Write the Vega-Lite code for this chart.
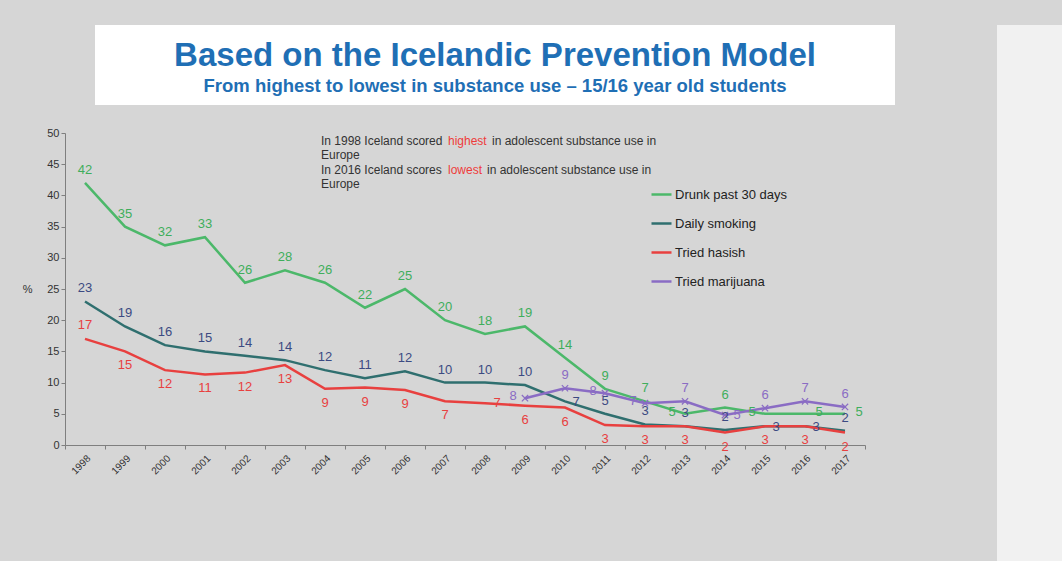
{
  "$schema": "https://vega.github.io/schema/vega-lite/v6.json",
  "background": "#d6d6d6",
  "padding": {"left": 22, "top": 0, "right": 0, "bottom": 0},
  "config": {"font": "Liberation Sans", "view": {"stroke": null}},
  "spacing": 102,
  "align": "each",
  "hconcat": [
    {
      "spacing": 22,
      "align": "each",
      "vconcat": [
        {
          "spacing": 0,
          "align": "each",
          "hconcat": [
            {"width": 30, "height": 80, "data": {"values": []}, "mark": "point"},
            {
              "width": 800,
              "height": 80,
              "view": {"fill": "white", "stroke": null},
              "title": {"text": " ", "fontSize": 10, "offset": 15},
              "layer": [
                {
                  "data": {"values": [{"t": "Based on the Icelandic Prevention Model"}]},
                  "mark": {"type": "text", "fontSize": 33, "fontWeight": "bold", "color": "#1f6fb5", "dy": -9, "baseline": "middle"},
                  "encoding": {"text": {"field": "t"}}
                },
                {
                  "data": {"values": [{"t": "From highest to lowest in substance use – 15/16 year old students"}]},
                  "mark": {"type": "text", "fontSize": 18.5, "fontWeight": "bold", "color": "#1f6fb5", "dy": 21, "baseline": "middle"},
                  "encoding": {"text": {"field": "t"}}
                }
              ]
            }
          ]
        },
        {
          "width": 800,
          "height": 312,
          "layer": [
            {
              "data": {"values": [
                {"year": "1998", "s": "Drunk past 30 days", "v": 42},
                {"year": "1999", "s": "Drunk past 30 days", "v": 35},
                {"year": "2000", "s": "Drunk past 30 days", "v": 32},
                {"year": "2001", "s": "Drunk past 30 days", "v": 33.3},
                {"year": "2002", "s": "Drunk past 30 days", "v": 26},
                {"year": "2003", "s": "Drunk past 30 days", "v": 28},
                {"year": "2004", "s": "Drunk past 30 days", "v": 26},
                {"year": "2005", "s": "Drunk past 30 days", "v": 22},
                {"year": "2006", "s": "Drunk past 30 days", "v": 25},
                {"year": "2007", "s": "Drunk past 30 days", "v": 20},
                {"year": "2008", "s": "Drunk past 30 days", "v": 17.8},
                {"year": "2009", "s": "Drunk past 30 days", "v": 19},
                {"year": "2010", "s": "Drunk past 30 days", "v": 14},
                {"year": "2011", "s": "Drunk past 30 days", "v": 9},
                {"year": "2012", "s": "Drunk past 30 days", "v": 7},
                {"year": "2013", "s": "Drunk past 30 days", "v": 5},
                {"year": "2014", "s": "Drunk past 30 days", "v": 6},
                {"year": "2015", "s": "Drunk past 30 days", "v": 5},
                {"year": "2016", "s": "Drunk past 30 days", "v": 5},
                {"year": "2017", "s": "Drunk past 30 days", "v": 5},
                {"year": "1998", "s": "Daily smoking", "v": 23},
                {"year": "1999", "s": "Daily smoking", "v": 19},
                {"year": "2000", "s": "Daily smoking", "v": 16},
                {"year": "2001", "s": "Daily smoking", "v": 15},
                {"year": "2002", "s": "Daily smoking", "v": 14.3},
                {"year": "2003", "s": "Daily smoking", "v": 13.6},
                {"year": "2004", "s": "Daily smoking", "v": 12},
                {"year": "2005", "s": "Daily smoking", "v": 10.7},
                {"year": "2006", "s": "Daily smoking", "v": 11.8},
                {"year": "2007", "s": "Daily smoking", "v": 10},
                {"year": "2008", "s": "Daily smoking", "v": 10},
                {"year": "2009", "s": "Daily smoking", "v": 9.6},
                {"year": "2010", "s": "Daily smoking", "v": 7},
                {"year": "2011", "s": "Daily smoking", "v": 5},
                {"year": "2012", "s": "Daily smoking", "v": 3.3},
                {"year": "2013", "s": "Daily smoking", "v": 3},
                {"year": "2014", "s": "Daily smoking", "v": 2.4},
                {"year": "2015", "s": "Daily smoking", "v": 3},
                {"year": "2016", "s": "Daily smoking", "v": 3},
                {"year": "2017", "s": "Daily smoking", "v": 2.3},
                {"year": "1998", "s": "Tried hasish", "v": 17},
                {"year": "1999", "s": "Tried hasish", "v": 15},
                {"year": "2000", "s": "Tried hasish", "v": 12},
                {"year": "2001", "s": "Tried hasish", "v": 11.3},
                {"year": "2002", "s": "Tried hasish", "v": 11.6},
                {"year": "2003", "s": "Tried hasish", "v": 12.8},
                {"year": "2004", "s": "Tried hasish", "v": 9},
                {"year": "2005", "s": "Tried hasish", "v": 9.2},
                {"year": "2006", "s": "Tried hasish", "v": 8.8},
                {"year": "2007", "s": "Tried hasish", "v": 7},
                {"year": "2008", "s": "Tried hasish", "v": 6.7},
                {"year": "2009", "s": "Tried hasish", "v": 6.3},
                {"year": "2010", "s": "Tried hasish", "v": 6},
                {"year": "2011", "s": "Tried hasish", "v": 3.2},
                {"year": "2012", "s": "Tried hasish", "v": 3},
                {"year": "2013", "s": "Tried hasish", "v": 3},
                {"year": "2014", "s": "Tried hasish", "v": 2},
                {"year": "2015", "s": "Tried hasish", "v": 3},
                {"year": "2016", "s": "Tried hasish", "v": 3},
                {"year": "2017", "s": "Tried hasish", "v": 2},
                {"year": "2009", "s": "Tried marijuana", "v": 7.5},
                {"year": "2010", "s": "Tried marijuana", "v": 9.1},
                {"year": "2011", "s": "Tried marijuana", "v": 8.3},
                {"year": "2012", "s": "Tried marijuana", "v": 6.7},
                {"year": "2013", "s": "Tried marijuana", "v": 7},
                {"year": "2014", "s": "Tried marijuana", "v": 4.8},
                {"year": "2015", "s": "Tried marijuana", "v": 5.9},
                {"year": "2016", "s": "Tried marijuana", "v": 7},
                {"year": "2017", "s": "Tried marijuana", "v": 6.1}
              ]},
              "encoding": {
                "x": {
                  "field": "year", "type": "ordinal",
                  "scale": {"type": "band", "paddingInner": 0, "paddingOuter": 0},
                  "axis": {"title": null, "labelAngle": -45, "tickBand": "extent", "domainColor": "#7f7f7f", "tickColor": "#7f7f7f", "tickSize": 4, "labelFontSize": 10, "labelColor": "#333333", "labelPadding": 4}
                },
                "y": {
                  "field": "v", "type": "quantitative",
                  "scale": {"domain": [0, 50]},
                  "axis": {"title": "%", "titleAngle": 0, "titleAlign": "right", "titleBaseline": "middle", "titleX": -33, "titleFontWeight": "normal", "titleFontSize": 11, "titleColor": "#333333", "values": [0, 5, 10, 15, 20, 25, 30, 35, 40, 45, 50], "grid": false, "tickSize": 4, "labelFontSize": 11, "labelColor": "#333333", "domainColor": "#7f7f7f", "tickColor": "#7f7f7f"}
                }
              },
              "layer": [
                {
                  "mark": {"type": "line", "strokeWidth": 2.5},
                  "encoding": {
                    "color": {
                      "field": "s", "type": "nominal",
                      "scale": {"domain": ["Drunk past 30 days", "Daily smoking", "Tried hasish", "Tried marijuana"], "range": ["#4cb86a", "#2f6f6f", "#e8403f", "#8a6cc4"]},
                      "legend": {"title": null, "orient": "none", "legendX": 585, "legendY": 158, "symbolType": "stroke", "symbolSize": 400, "symbolStrokeWidth": 2.5, "labelFontSize": 13, "labelColor": "#222222", "rowPadding": 10, "labelOffset": 2, "padding": 0}
                    }
                  }
                },
                {
                  "transform": [{"filter": "datum.s == 'Tried marijuana'"}],
                  "mark": {"type": "point", "shape": "M-1,-1L1,1M-1,1L1,-1", "filled": false, "size": 40, "color": "#8a6cc4", "strokeWidth": 1.2, "opacity": 1}
                },
                {
                  "transform": [{"filter": "datum.s == 'Drunk past 30 days' && indexof(['2013','2015','2016','2017'], datum.year) < 0"}],
                  "mark": {"type": "text", "fontSize": 13, "color": "#3fae5c", "dy": -13},
                  "encoding": {"text": {"field": "v", "type": "quantitative", "format": ".0f"}}
                },
                {
                  "transform": [{"filter": "datum.s == 'Drunk past 30 days' && indexof(['2013','2015'], datum.year) >= 0"}],
                  "mark": {"type": "text", "fontSize": 13, "color": "#3fae5c", "dx": -13, "dy": -2},
                  "encoding": {"text": {"field": "v", "type": "quantitative", "format": ".0f"}}
                },
                {
                  "transform": [{"filter": "datum.s == 'Drunk past 30 days' && indexof(['2016','2017'], datum.year) >= 0"}],
                  "mark": {"type": "text", "fontSize": 13, "color": "#3fae5c", "dx": 14, "dy": -2},
                  "encoding": {"text": {"field": "v", "type": "quantitative", "format": ".0f"}}
                },
                {
                  "transform": [{"filter": "datum.s == 'Daily smoking' && indexof(['2010','2015','2016'], datum.year) < 0"}],
                  "mark": {"type": "text", "fontSize": 13, "color": "#3c4a82", "dy": -13},
                  "encoding": {"text": {"field": "v", "type": "quantitative", "format": ".0f"}}
                },
                {
                  "transform": [{"filter": "datum.s == 'Daily smoking' && indexof(['2010','2015','2016'], datum.year) >= 0"}],
                  "mark": {"type": "text", "fontSize": 13, "color": "#3c4a82", "dx": 11, "dy": 1},
                  "encoding": {"text": {"field": "v", "type": "quantitative", "format": ".0f"}}
                },
                {
                  "transform": [{"filter": "datum.s == 'Tried hasish' && indexof(['1998','2008'], datum.year) < 0"}],
                  "mark": {"type": "text", "fontSize": 13, "color": "#e8403f", "dy": 14},
                  "encoding": {"text": {"field": "v", "type": "quantitative", "format": ".0f"}}
                },
                {
                  "transform": [{"filter": "datum.s == 'Tried hasish' && datum.year == '1998'"}],
                  "mark": {"type": "text", "fontSize": 13, "color": "#e8403f", "dy": -14},
                  "encoding": {"text": {"field": "v", "type": "quantitative", "format": ".0f"}}
                },
                {
                  "transform": [{"filter": "datum.s == 'Tried hasish' && datum.year == '2008'"}],
                  "mark": {"type": "text", "fontSize": 13, "color": "#e8403f", "dx": 12, "dy": 0},
                  "encoding": {"text": {"field": "v", "type": "quantitative", "format": ".0f"}}
                },
                {
                  "transform": [{"filter": "datum.s == 'Tried marijuana' && indexof(['2009','2011','2012','2014'], datum.year) < 0"}],
                  "mark": {"type": "text", "fontSize": 13, "color": "#8a6cc4", "dy": -13},
                  "encoding": {"text": {"field": "v", "type": "quantitative", "format": ".0f"}}
                },
                {
                  "transform": [{"filter": "datum.s == 'Tried marijuana' && indexof(['2009','2011','2012'], datum.year) >= 0"}],
                  "mark": {"type": "text", "fontSize": 13, "color": "#8a6cc4", "dx": -12, "dy": -2},
                  "encoding": {"text": {"field": "v", "type": "quantitative", "format": ".0f"}}
                },
                {
                  "transform": [{"filter": "datum.s == 'Tried marijuana' && datum.year == '2014'"}],
                  "mark": {"type": "text", "fontSize": 13, "color": "#8a6cc4", "dx": 12, "dy": 0},
                  "encoding": {"text": {"field": "v", "type": "quantitative", "format": ".0f"}}
                }
              ]
            },
            {
              "encoding": {
                "x": {
                  "datum": "2004", "type": "ordinal",
                  "axis": {"title": null, "labelAngle": -45, "tickBand": "extent", "domainColor": "#7f7f7f", "tickColor": "#7f7f7f", "tickSize": 4, "labelFontSize": 10, "labelColor": "#333333", "labelPadding": 4}
                },
                "y": {
                  "datum": 50, "type": "quantitative",
                  "axis": {"title": "%", "titleAngle": 0, "titleAlign": "right", "titleBaseline": "middle", "titleX": -33, "titleFontWeight": "normal", "titleFontSize": 11, "titleColor": "#333333", "values": [0, 5, 10, 15, 20, 25, 30, 35, 40, 45, 50], "grid": false, "tickSize": 4, "labelFontSize": 11, "labelColor": "#333333", "domainColor": "#7f7f7f", "tickColor": "#7f7f7f"}
                },
                "text": {"field": "t", "type": "nominal"}
              },
              "layer": [
                {
                  "data": {"values": [{"t": "In 1998 Iceland scored"}]},
                  "mark": {"type": "text", "fontSize": 12, "color": "#333333", "align": "left", "baseline": "middle", "dx": -4, "dy": 8}
                },
                {
                  "data": {"values": [{"t": "highest"}]},
                  "mark": {"type": "text", "fontSize": 12, "color": "#ee3b3b", "align": "left", "baseline": "middle", "dx": 123, "dy": 8}
                },
                {
                  "data": {"values": [{"t": "in adolescent substance use in"}]},
                  "mark": {"type": "text", "fontSize": 12, "color": "#333333", "align": "left", "baseline": "middle", "dx": 167, "dy": 8}
                },
                {
                  "data": {"values": [{"t": "Europe"}]},
                  "mark": {"type": "text", "fontSize": 12, "color": "#333333", "align": "left", "baseline": "middle", "dx": -4, "dy": 22}
                },
                {
                  "data": {"values": [{"t": "In 2016 Iceland scores"}]},
                  "mark": {"type": "text", "fontSize": 12, "color": "#333333", "align": "left", "baseline": "middle", "dx": -4, "dy": 37}
                },
                {
                  "data": {"values": [{"t": "lowest"}]},
                  "mark": {"type": "text", "fontSize": 12, "color": "#ee3b3b", "align": "left", "baseline": "middle", "dx": 123, "dy": 37}
                },
                {
                  "data": {"values": [{"t": "in adolescent substance use in"}]},
                  "mark": {"type": "text", "fontSize": 12, "color": "#333333", "align": "left", "baseline": "middle", "dx": 162, "dy": 37}
                },
                {
                  "data": {"values": [{"t": "Europe"}]},
                  "mark": {"type": "text", "fontSize": 12, "color": "#333333", "align": "left", "baseline": "middle", "dx": -4, "dy": 51}
                }
              ]
            }
          ]
        }
      ]
    },
    {"width": 65, "height": 561, "data": {"values": []}, "mark": "point", "view": {"fill": "#f1f1f1", "stroke": null}}
  ]
}
